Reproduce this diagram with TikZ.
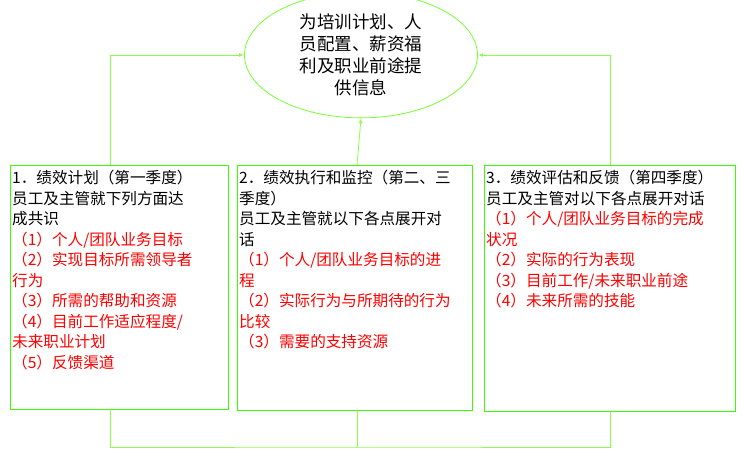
\documentclass[tikz,border=0pt]{standalone}
\usepackage{fontspec}
\setmainfont{Noto Sans CJK SC}
\usetikzlibrary{shapes.geometric,arrows.meta}
\tikzset{
  box/.style={draw=green!70!lime, line width=1pt, anchor=north west, inner sep=0pt},
  txt/.style={anchor=north west, align=left, font=\fontsize{15.6}{20.5}\selectfont, inner sep=0pt},
  link/.style={draw=green!55!lime!70, line width=0.8pt},
}
\begin{document}
\begin{tikzpicture}[x=1pt,y=-1pt]
    \useasboundingbox (0,0) rectangle (743,449);
    % top ellipse
    \node[ellipse, draw=green!55!lime!80, line width=0.8pt, minimum width=233, minimum height=105,
          align=center, font=\fontsize{17.5}{22}\selectfont] (info) at (361,55)
          {为培训计划、人\\员配置、薪资福\\利及职业前途提\\供信息};

    % boxes
    \draw[box] (10,165) rectangle (228,409);
    \coordinate (b1) at (110,165);
    \coordinate (b1s) at (110,409);
    \draw[box] (237,165) rectangle (472,410);
    \coordinate (b2) at (357,165);
    \coordinate (b2s) at (357,410);
    \draw[box] (484,165) rectangle (735,411);
    \coordinate (b3) at (610,165);
    \coordinate (b3s) at (610,411);

    % texts
    \node[txt] (t1) at (12,170) {1．绩效计划（第一季度）\\员工及主管就下列方面达\\成共识\\
      \color{red}（1）个人/团队业务目标\\\color{red}（2）实现目标所需领导者\\\color{red}行为\\
      \color{red}（3）所需的帮助和资源\\\color{red}（4）目前工作适应程度/\\\color{red}未来职业计划\\
      \color{red}（5）反馈渠道};
    \node[txt] (t2) at (239,170) {2．绩效执行和监控（第二、三\\季度）\\员工及主管就以下各点展开对\\话\\
      \color{red}（1）个人/团队业务目标的进\\\color{red}程\\
      \color{red}（2）实际行为与所期待的行为\\\color{red}比较\\
      \color{red}（3）需要的支持资源};
    \node[txt] (t3) at (486,170) {3．绩效评估和反馈（第四季度）\\员工及主管对以下各点展开对话\\
      \color{red}（1）个人/团队业务目标的完成\\\color{red}状况\\
      \color{red}（2）实际的行为表现\\\color{red}（3）目前工作/未来职业前途\\
      \color{red}（4）未来所需的技能};

    % connectors
    \draw[link, -{Latex[length=5pt]}] (b1) |- (info.west);
    \draw[link, -{Latex[length=5pt]}] (b3) |- (info.east);
    \draw[link, -{Latex[length=5pt]}] (b2) -- (info.south);
    \coordinate (low) at (357,447);
    \draw[link] (b1s) |- (low) -| (b3s);
    \draw[link] (b2s) -- (low);
\end{tikzpicture}
\end{document}
